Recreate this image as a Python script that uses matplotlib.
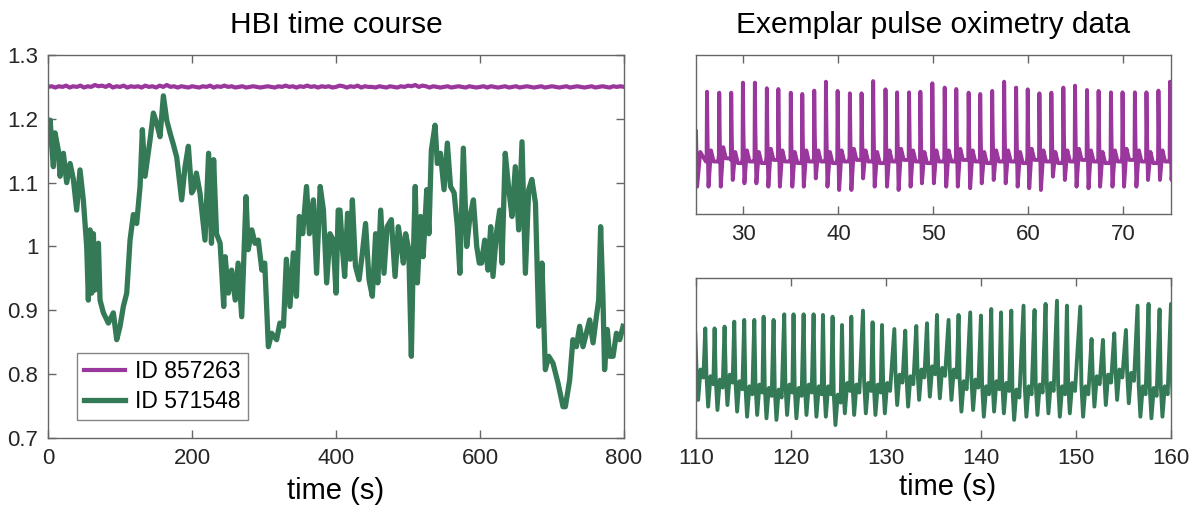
import numpy as np
import matplotlib
matplotlib.use("Agg")
import matplotlib.pyplot as plt

plt.rcParams['font.family'] = ['Liberation Sans', 'DejaVu Sans']

PURPLE = '#9a379c'
GREEN = '#357a57'
AXC = '#666666'
TXT = '#262626'

# ---------------- HBI time course ----------------
hbi_purple_t = np.arange(0, 801, 5)
hbi_purple_v = [1.250, 1.251, 1.249, 1.251, 1.250, 1.252, 1.249, 1.251, 1.250, 1.252,
                1.249, 1.251, 1.250, 1.253, 1.251, 1.252, 1.250, 1.253, 1.249, 1.251,
                1.250, 1.252, 1.249, 1.251, 1.250, 1.251, 1.249, 1.252, 1.250, 1.251,
                1.249, 1.252, 1.250, 1.253, 1.250, 1.251, 1.249, 1.251, 1.250, 1.249,
                1.251, 1.250, 1.249, 1.251, 1.250, 1.252, 1.249, 1.251, 1.250, 1.252,
                1.250, 1.251, 1.249, 1.250, 1.251, 1.249, 1.250, 1.251, 1.250, 1.249,
                1.250, 1.251, 1.250, 1.249, 1.251, 1.250, 1.252, 1.250, 1.251, 1.249,
                1.251, 1.250, 1.252, 1.250, 1.251, 1.249, 1.251, 1.250, 1.251, 1.249,
                1.250, 1.252, 1.251, 1.249, 1.251, 1.250, 1.252, 1.249, 1.251, 1.250,
                1.250, 1.249, 1.251, 1.250, 1.249, 1.251, 1.250, 1.249, 1.251, 1.250,
                1.252, 1.251, 1.253, 1.250, 1.252, 1.251, 1.249, 1.251, 1.250, 1.249,
                1.250, 1.251, 1.249, 1.250, 1.251, 1.250, 1.249, 1.251, 1.250, 1.249,
                1.250, 1.251, 1.249, 1.251, 1.250, 1.249, 1.250, 1.251, 1.249, 1.250,
                1.251, 1.249, 1.250, 1.251, 1.250, 1.249, 1.250, 1.251, 1.249, 1.250,
                1.251, 1.250, 1.249, 1.250, 1.251, 1.249, 1.250, 1.251, 1.250, 1.249,
                1.250, 1.251, 1.249, 1.250, 1.251, 1.250, 1.249, 1.251, 1.250, 1.251,
                1.250]

hbi_green_t = [0, 3, 5, 7.4, 9.7, 14.4, 16.7, 21.3, 25.9, 30.6, 35.2, 39.8, 44.4, 49, 53.7,
               56, 58.3, 60.6, 63, 65.3, 70, 72.2, 76.9, 83.8, 90.7, 95.4, 100, 104.6, 109.3,
               113.9, 118.5, 123.1, 127.8, 131, 134.7, 141.7, 146.3, 150.9, 155.5, 160.2,
               164.8, 169.4, 174, 178.7, 185.6, 190.3, 194.9, 199.5,
               202, 206, 211, 218, 223, 227, 230, 234, 239, 244, 246, 250.5, 255, 260, 264,
               269, 275, 278, 283, 287.5, 292, 297, 301, 306, 310.6, 317.5, 322, 327, 331,
               336, 340.7, 345, 349, 353.7, 359, 363, 368.5, 373, 378, 382.5, 387, 391.6,
               396, 400, 403, 405.5, 409, 412, 416, 419.5, 422.7, 427, 432, 436, 441, 445.8,
               450.4, 455, 458, 462, 466.6, 471, 476.8, 482, 486.5, 490, 493.5, 496.7, 501,
               504.6, 507, 510, 513, 517.5, 521, 526, 529, 532.4, 537.5, 540.7, 545, 550,
               554.6, 559, 564, 568.5, 572, 576.8, 581.5, 586, 590.8, 595.4, 599,
               602, 606.5, 611, 614.8, 618, 622.7, 627.3, 630.5, 635, 640, 644.4, 649, 653.7,
               658.3, 663, 667.6, 672, 677, 681.5, 686, 690.7, 695.4, 701.4, 708.3, 715.3,
               718.5, 724.5, 729, 733.8, 738.4, 743, 747.7, 752.3, 757, 761.6, 764.8, 767.5,
               770.8, 773, 776.8, 780, 784.8, 789.4, 794, 798.7]
hbi_green_v = [1.17, 1.198, 1.16, 1.125, 1.178, 1.15, 1.11, 1.146, 1.10, 1.13, 1.105, 1.057,
               1.12, 1.073, 1.0, 0.916, 1.026, 0.927, 1.02, 0.932, 1.005, 0.916, 0.896, 0.88,
               0.896, 0.854, 0.875, 0.906, 0.927, 1.01, 1.05, 1.036, 1.094, 1.183, 1.11,
               1.167, 1.209, 1.193, 1.172, 1.236, 1.198, 1.178, 1.16, 1.14, 1.073, 1.125,
               1.157, 1.084,
               1.089, 1.115, 1.084, 1.01, 1.146, 1.005, 1.136, 1.02, 1.005, 0.906, 0.984,
               0.927, 0.963, 0.916, 0.974, 0.89, 1.078, 0.995, 1.026, 1.005, 1.01, 0.963,
               0.974, 0.843, 0.864, 0.854, 0.88, 0.875, 0.98, 0.906, 0.99, 0.922, 1.047,
               1.02, 1.094, 1.02, 1.073, 0.958, 1.094, 1.057, 0.943, 1.02, 1.01, 0.927,
               1.057, 1.057, 0.995, 0.953, 1.052, 0.98, 1.073, 0.969, 0.948, 0.984, 1.036,
               0.948, 0.922, 1.02, 0.943, 1.057, 0.958, 1.031, 1.042, 0.953, 1.031, 1.005,
               0.974, 1.02, 0.995, 0.828, 0.969, 1.094, 0.943, 1.047, 0.984, 1.089, 1.02,
               1.151, 1.19, 1.13, 1.146, 1.089, 1.162, 1.094, 1.084, 1.031, 0.958, 1.154,
               1.0, 1.047, 1.073, 1.0, 0.974,
               0.974, 1.01, 0.963, 1.031, 0.953, 1.02, 1.057, 0.974, 1.146, 1.089, 1.047,
               1.125, 1.026, 1.164, 0.958, 1.089, 1.105, 1.068, 0.875, 0.974, 0.807, 0.828,
               0.817, 0.786, 0.749, 0.749, 0.791, 0.854, 0.843, 0.875, 0.843, 0.864, 0.885,
               0.849, 0.89, 0.916, 1.031, 0.916, 0.807, 0.87, 0.828, 0.828, 0.864, 0.854,
               0.875]

# ---------------- Pulse oximetry (ID 857263) ----------------
p_peak_t = [26.16, 27.45, 28.71, 29.94, 31.20, 32.46, 33.67, 34.98, 36.19, 37.45, 38.68,
            39.91, 41.20, 42.43, 43.65, 44.95, 46.17, 47.43, 48.62, 49.88, 51.18, 52.40,
            53.70, 54.92, 56.18, 57.44, 58.70, 59.92, 61.15, 62.41, 63.67, 64.90, 66.16,
            67.38, 68.68, 69.90, 71.20, 72.42, 73.68, 74.90]
p_peak_v = [0.769, 0.763, 0.763, 0.826, 0.826, 0.791, 0.786, 0.763, 0.755, 0.776, 0.832,
            0.774, 0.759, 0.759, 0.836, 0.784, 0.765, 0.765, 0.769, 0.822, 0.795, 0.786,
            0.763, 0.755, 0.774, 0.832, 0.795, 0.784, 0.759, 0.763, 0.795, 0.807, 0.780,
            0.774, 0.765, 0.765, 0.765, 0.765, 0.776, 0.832]
p_trough_v = [0.172, 0.172, 0.214, 0.193, 0.193, 0.172, 0.172, 0.172, 0.172, 0.224, 0.172,
              0.151, 0.151, 0.224, 0.172, 0.172, 0.151, 0.172, 0.193, 0.193, 0.172, 0.172,
              0.162, 0.193, 0.214, 0.193, 0.172, 0.162, 0.151, 0.235, 0.214, 0.172, 0.162,
              0.172, 0.172, 0.172, 0.172, 0.214, 0.214, 0.214]
p_base_v = [0.33, 0.35, 0.32, 0.33, 0.32, 0.34, 0.33, 0.32, 0.33, 0.33, 0.32, 0.33, 0.34,
            0.33, 0.32, 0.33, 0.34, 0.33, 0.32, 0.33, 0.33, 0.34, 0.33, 0.32, 0.33, 0.33,
            0.32, 0.34, 0.33, 0.32, 0.33, 0.34, 0.33, 0.32, 0.33, 0.34, 0.33, 0.32, 0.33, 0.33]
p_start_v = 0.52

# ---------------- Pulse oximetry (ID 571548) ----------------
g_peak_t = [109.93, 110.98, 111.96, 113.01, 114.03, 115.08, 116.14, 117.12, 118.17, 119.29,
            120.27, 121.33, 122.38, 123.37, 124.38, 125.37, 126.35, 127.58, 128.59, 129.58,
            130.88, 132.03, 133.19, 134.32, 135.37, 136.59, 137.64, 138.87, 140.00, 141.08,
            142.11, 143.19, 144.48, 145.64, 146.80, 148.00, 149.05, 150.45, 151.64, 152.84,
            154.03, 155.26, 156.48, 157.64, 158.80, 160.00]
g_peak_v = [0.654, 0.685, 0.685, 0.696, 0.727, 0.738, 0.738, 0.758, 0.738, 0.773, 0.773,
            0.773, 0.773, 0.769, 0.758, 0.706, 0.758, 0.796, 0.723, 0.706, 0.681, 0.671,
            0.700, 0.717, 0.769, 0.738, 0.769, 0.785, 0.765, 0.806, 0.785, 0.796, 0.827,
            0.800, 0.838, 0.858, 0.827, 0.821, 0.619, 0.613, 0.654, 0.675, 0.827, 0.838,
            0.804, 0.838]
g_trough_v = [0.238, 0.196, 0.175, 0.206, 0.165, 0.133, 0.144, 0.123, 0.113, 0.144, 0.123,
              0.144, 0.133, 0.133, 0.081, 0.154, 0.144, 0.154, 0.144, 0.154, 0.206, 0.196,
              0.238, 0.258, 0.248, 0.238, 0.165, 0.175, 0.133, 0.165, 0.154, 0.113, 0.133,
              0.144, 0.154, 0.133, 0.154, 0.133, 0.196, 0.206, 0.238, 0.217, 0.133, 0.123,
              0.133, 0.133]


def purple_wave(peak_t, peak_v, trough_v, base_v, start_v):
    ts, vs = [25.0], [start_v]
    ts.append(25.12); vs.append(trough_v[0])
    ts.append(25.45); vs.append(base_v[0] + 0.06)
    for i, (tp, pv) in enumerate(zip(peak_t, peak_v)):
        ts += [tp - 0.12, tp - 0.04, tp, tp + 0.06, tp + 0.16, tp + 0.42, tp + 0.7]
        nb = base_v[i]
        vs += [base_v[i - 1] if i > 0 else base_v[0], base_v[i] + 0.02, pv,
               (pv + trough_v[i]) / 2, trough_v[i], nb + 0.07, nb]
    return np.array(ts), np.array(vs)


def green_wave(peak_t, peak_v, trough_v):
    ts, vs = [], []
    for i, (tp, pv) in enumerate(zip(peak_t, peak_v)):
        q = trough_v[i]
        ts += [tp, tp + 0.12, tp + 0.3, tp + 0.55, tp + 0.85]
        vs += [pv, q + 0.2, q, q + 0.19, q + 0.14]
    return np.array(ts), np.array(vs)


fig = plt.figure(figsize=(11.95, 5.11), dpi=100)

def style(ax):
    for s in ax.spines.values():
        s.set_color(AXC)
        s.set_linewidth(1.0)
    ax.tick_params(direction='in', colors=AXC, labelcolor=TXT, labelsize=16,
                   top=True, right=True, length=6, width=1.0, pad=7)

ax1 = fig.add_axes([0.0402, 0.1429, 0.4820, 0.7495])
ax1.plot(hbi_purple_t, hbi_purple_v, color=PURPLE, lw=3.0, label='ID 857263')
ax1.plot(hbi_green_t, hbi_green_v, color=GREEN, lw=3.8, label='ID 571548')
ax1.set_xlim(0, 800)
ax1.set_ylim(0.7, 1.3)
ax1.set_xticks([0, 200, 400, 600, 800])
ax1.set_yticks([0.7, 0.8, 0.9, 1.0, 1.1, 1.2, 1.3])
ax1.set_yticklabels(['0.7', '0.8', '0.9', '1', '1.1', '1.2', '1.3'])
style(ax1)
ax1.set_title('HBI time course', fontsize=21.5, color='black', pad=16)
ax1.set_xlabel('time (s)', fontsize=21, color='black', labelpad=6)
leg = ax1.legend(loc='lower left', bbox_to_anchor=(0.05, 0.047), fontsize=16.5,
                 handlelength=1.8, frameon=True, fancybox=False, borderpad=0.3,
                 labelspacing=0.3, handletextpad=0.45, borderaxespad=0)
leg.get_frame().set_edgecolor(AXC)
leg.get_frame().set_linewidth(1.0)

ax2 = fig.add_axes([0.5824, 0.5812, 0.3975, 0.3112])
pt, pv = purple_wave(p_peak_t, p_peak_v, p_trough_v, p_base_v, p_start_v)
ax2.plot(pt, pv, color=PURPLE, lw=2.8)
ax2.set_xlim(25, 75)
ax2.set_ylim(0, 1)
ax2.set_xticks([30, 40, 50, 60, 70])
ax2.set_yticks([])
style(ax2)
ax2.set_title('Exemplar pulse oximetry data', fontsize=21.5, color='black', pad=16)

ax3 = fig.add_axes([0.5824, 0.1429, 0.3975, 0.3131])
gt, gv = green_wave(g_peak_t, g_peak_v, g_trough_v)
ax3.plot(gt, gv, color=GREEN, lw=2.8)
ax3.set_xlim(110, 160)
ax3.set_ylim(0, 1)
ax3.set_xticks([110, 120, 130, 140, 150, 160])
ax3.set_yticks([])
style(ax3)
ax3.set_xlabel('time (s)', fontsize=21, color='black', labelpad=6)
ax3.xaxis.set_label_coords(0.53, -0.22)

fig.savefig('out.png', dpi=100)
